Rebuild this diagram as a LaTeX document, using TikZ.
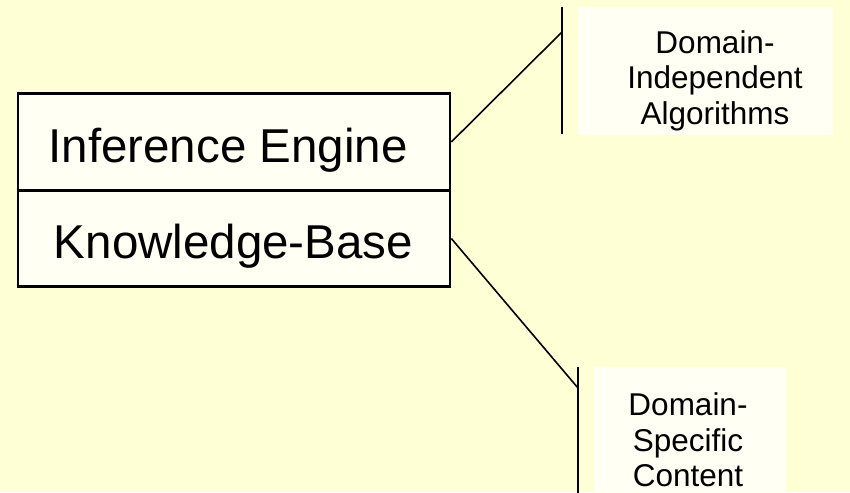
\documentclass[tikz,border=0pt]{standalone}
\usepackage{fontspec}
\setmainfont{Liberation Sans}
\definecolor{bgyellow}{RGB}{255,255,214}
\definecolor{boxfill}{RGB}{255,255,243}
\tikzset{
  compbox/.style={draw=black, line width=2.6pt, fill=boxfill, minimum width=432pt, minimum height=96.5pt, inner sep=0pt},
  bigtext/.style={font=\fontsize{47.5pt}{52pt}\selectfont, inner sep=0pt, anchor=base},
  notebox/.style={fill=boxfill, draw=none},
  notetext/.style={font=\fontsize{31.5pt}{35.7pt}\selectfont, align=center, inner sep=0pt, anchor=center},
  leader/.style={draw=black, line width=1.6pt},
  bracket/.style={draw=black, line width=2.2pt},
}
\begin{document}
\begin{tikzpicture}[x=1pt,y=-1pt]
  \fill[bgyellow] (0,0) rectangle (850,492);
  \useasboundingbox (0,0) rectangle (850,492);
  % note boxes
  \fill[notebox] (578,7) rectangle (833,135);
  \fill[notebox] (594,367) rectangle (786,494);
  % main boxes
  \node[compbox] (ie) at (234,142) {};
  \node[compbox] (kb) at (234,238.5) {};
  \node[bigtext] (ietext) at (228,162) {Inference Engine};
  \node[bigtext] (kbtext) at (233.5,258) {Knowledge-Base};
  % note texts
  \node[notetext] (dia) at (715,80.8) {Domain-\\Independent\\Algorithms};
  \node[notetext] (dsc) at (688,440) {Domain-\\Specific\\Content};
  % brackets
  \coordinate (b1top) at (562,7);
  \coordinate (b1bot) at (562,134);
  \coordinate (b1join) at (562,32);
  \coordinate (b2top) at (578,367);
  \coordinate (b2bot) at (578,494);
  \coordinate (b2join) at (578,388);
  \draw[bracket] (b1top) -- (b1bot);
  \draw[bracket] (b2top) -- (b2bot);
  \draw[leader] (ie.east) -- (b1join);
  \draw[leader] (kb.east) -- (b2join);
\end{tikzpicture}
\end{document}
